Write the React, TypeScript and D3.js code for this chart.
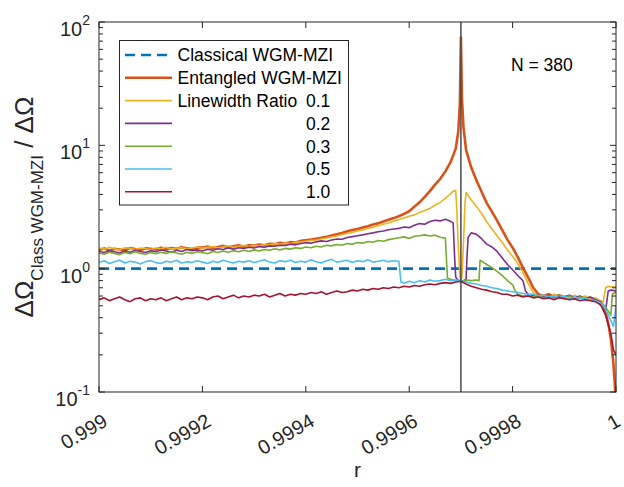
import React from 'react';
import * as d3 from 'd3';

// ---------- data ----------
const rBase = [
  0.99900, 0.99901, 0.99902, 0.99903, 0.99904, 0.99905, 0.99906, 0.99907, 0.99908, 0.99909,
  0.99910, 0.99911, 0.99912, 0.99913, 0.99914, 0.99915, 0.99916, 0.99917, 0.99918, 0.99919,
  0.99920, 0.99921, 0.99922, 0.99923, 0.99924, 0.99925, 0.99926, 0.99927, 0.99928, 0.99929,
  0.99930, 0.99931, 0.99932, 0.99933, 0.99934, 0.99935, 0.99936, 0.99937, 0.99938, 0.99939,
  0.99940, 0.99941, 0.99942, 0.99943, 0.99944, 0.99945, 0.99946, 0.99947, 0.99948, 0.99949,
  0.99950, 0.99951, 0.99952, 0.99953, 0.99954, 0.99955, 0.99956, 0.99957,
];

const entangledBase = [
  1.42, 1.46, 1.40, 1.45, 1.43, 1.41, 1.47, 1.44, 1.42, 1.46,
  1.45, 1.43, 1.48, 1.44, 1.47, 1.45, 1.49, 1.46, 1.44, 1.48,
  1.48, 1.51, 1.47, 1.50, 1.53, 1.49, 1.52, 1.55, 1.51, 1.55,
  1.54, 1.57, 1.55, 1.59, 1.58, 1.62, 1.60, 1.64, 1.63, 1.68,
  1.70, 1.72, 1.75, 1.78, 1.81, 1.86, 1.90, 1.95, 2.01, 2.06,
  2.10, 2.16, 2.21, 2.28, 2.33, 2.41, 2.49, 2.57,
];
const entangledTail: [number, number][] = [
  [0.99958, 2.66], [0.99959, 2.78], [0.99960, 2.92], [0.99961, 3.18], [0.99962, 3.45],
  [0.99963, 3.82], [0.99964, 4.25], [0.99965, 4.80], [0.99966, 5.35], [0.99967, 6.15],
  [0.99968, 7.30], [0.99969, 9.4], [0.999695, 13], [0.999698, 22], [0.99970, 75],
  [0.999702, 24], [0.999705, 14], [0.99971, 9.2], [0.99972, 6.6], [0.99973, 5.2],
  [0.99974, 4.2], [0.99975, 3.4], [0.99976, 2.9], [0.99977, 2.45], [0.99978, 2.05],
  [0.99979, 1.72], [0.99980, 1.48], [0.99981, 1.24], [0.99982, 1.02], [0.99983, 0.85],
  [0.99984, 0.70], [0.99985, 0.62], [0.99986, 0.60], [0.99987, 0.62], [0.99988, 0.59],
  [0.99989, 0.61], [0.99990, 0.58], [0.99991, 0.60], [0.99992, 0.57], [0.99993, 0.59],
  [0.99994, 0.57], [0.99995, 0.58], [0.99996, 0.56], [0.99997, 0.54], [0.999975, 0.50],
  [0.99998, 0.44], [0.999985, 0.36], [0.99999, 0.27], [0.999995, 0.17], [0.999998, 0.11],
  [1.0, 0.08],
];

const ratio01Base = [
  1.47, 1.44, 1.49, 1.45, 1.42, 1.48, 1.46, 1.43, 1.47, 1.45,
  1.43, 1.47, 1.45, 1.49, 1.44, 1.46, 1.48, 1.45, 1.47, 1.50,
  1.46, 1.49, 1.51, 1.48, 1.50, 1.53, 1.49, 1.52, 1.54, 1.51,
  1.55, 1.53, 1.57, 1.56, 1.59, 1.58, 1.61, 1.60, 1.64, 1.65,
  1.67, 1.70, 1.71, 1.75, 1.77, 1.81, 1.84, 1.89, 1.93, 1.97,
  2.02, 2.06, 2.12, 2.17, 2.23, 2.29, 2.35, 2.43,
];
const ratio01Tail: [number, number][] = [
  [0.99958, 2.50], [0.99959, 2.58], [0.99960, 2.66], [0.99961, 2.73], [0.99962, 2.85],
  [0.99963, 2.96], [0.99964, 3.08], [0.99965, 3.28], [0.99966, 3.45], [0.99967, 3.72],
  [0.99968, 4.05], [0.999685, 4.25], [0.99969, 4.30], [0.999692, 3.0], [0.999695, 1.5],
  [0.999698, 0.86], [0.99970, 0.80], [0.999702, 0.86], [0.999705, 1.6], [0.999708, 3.4],
  [0.99971, 4.15], [0.99972, 3.6], [0.99973, 3.2], [0.99974, 2.8], [0.99975, 2.4],
  [0.99976, 2.1], [0.99977, 1.85], [0.99978, 1.63], [0.99979, 1.42], [0.99980, 1.26],
  [0.99981, 1.10], [0.99982, 0.93], [0.99983, 0.76], [0.99984, 0.64], [0.99985, 0.60],
  [0.99986, 0.61], [0.99987, 0.58], [0.99988, 0.62], [0.99989, 0.59], [0.99990, 0.60],
  [0.99991, 0.58], [0.99992, 0.61], [0.99993, 0.58], [0.99994, 0.60], [0.99995, 0.57],
  [0.99996, 0.58], [0.99997, 0.55], [0.999975, 0.53], [0.99998, 0.70], [0.999985, 0.72],
  [0.99999, 0.71], [1.0, 0.72],
];

const ratio02Base = [
  1.38, 1.35, 1.40, 1.37, 1.34, 1.39, 1.36, 1.41, 1.38, 1.35,
  1.40, 1.37, 1.42, 1.39, 1.36, 1.41, 1.38, 1.43, 1.40, 1.42,
  1.39, 1.44, 1.41, 1.45, 1.43, 1.47, 1.44, 1.48, 1.46, 1.49,
  1.47, 1.51, 1.49, 1.53, 1.52, 1.55, 1.54, 1.58, 1.56, 1.60,
  1.62, 1.61, 1.65, 1.68, 1.66, 1.71, 1.74, 1.73, 1.79, 1.82,
  1.85, 1.88, 1.92, 1.95, 1.99, 2.02, 2.07, 2.10,
];
const ratio02Tail: [number, number][] = [
  [0.99958, 2.12], [0.99959, 2.18], [0.99960, 2.15], [0.99961, 2.25], [0.99962, 2.32],
  [0.99963, 2.29], [0.99964, 2.41], [0.99965, 2.47], [0.99966, 2.44], [0.99967, 2.52],
  [0.99968, 2.42], [0.999685, 2.35], [0.999688, 1.2], [0.99969, 0.85], [0.999695, 0.80],
  [0.99970, 0.78], [0.999705, 0.80], [0.99971, 0.82], [0.999712, 1.3], [0.999714, 1.8],
  [0.99972, 1.95], [0.99973, 1.90], [0.99974, 1.75], [0.99975, 1.58], [0.99976, 1.50],
  [0.99977, 1.38], [0.99978, 1.22], [0.99979, 1.08], [0.99980, 0.98], [0.99981, 0.88],
  [0.99982, 0.80], [0.999825, 0.66], [0.99983, 0.62], [0.99984, 0.60], [0.99985, 0.61],
  [0.99986, 0.59], [0.99987, 0.61], [0.99988, 0.58], [0.99989, 0.60], [0.99990, 0.59],
  [0.99991, 0.61], [0.99992, 0.58], [0.99993, 0.60], [0.99994, 0.57], [0.99995, 0.59],
  [0.99996, 0.56], [0.99997, 0.54], [0.999975, 0.50], [0.99998, 0.46], [0.999985, 0.66],
  [0.99999, 0.67], [1.0, 0.66],
];

const ratio03Base = [
  1.34, 1.31, 1.36, 1.33, 1.30, 1.35, 1.32, 1.37, 1.33, 1.31,
  1.35, 1.32, 1.36, 1.33, 1.37, 1.34, 1.31, 1.36, 1.33, 1.37,
  1.35, 1.32, 1.38, 1.35, 1.39, 1.36, 1.40, 1.37, 1.41, 1.38,
  1.42, 1.39, 1.43, 1.41, 1.45, 1.42, 1.46, 1.44, 1.48, 1.46,
  1.50, 1.48, 1.52, 1.50, 1.55, 1.53, 1.57, 1.55, 1.60, 1.58,
  1.63, 1.61, 1.66, 1.64, 1.69, 1.67, 1.72, 1.75,
];
const ratio03Tail: [number, number][] = [
  [0.99958, 1.78], [0.99959, 1.81], [0.99960, 1.76], [0.99961, 1.83], [0.99962, 1.85],
  [0.99963, 1.88], [0.99964, 1.84], [0.99965, 1.87], [0.99966, 1.80], [0.99967, 1.76],
  [0.999672, 1.2], [0.999674, 0.84], [0.99968, 0.82], [0.99969, 0.80], [0.99970, 0.79],
  [0.99971, 0.81], [0.99972, 0.80], [0.99973, 0.81], [0.999735, 0.80], [0.999737, 1.17],
  [0.99974, 1.15], [0.99975, 1.08], [0.99976, 1.02], [0.99977, 0.95], [0.99978, 0.88],
  [0.99979, 0.80], [0.99980, 0.74], [0.999805, 0.66], [0.99981, 0.62], [0.99982, 0.60],
  [0.99983, 0.61], [0.99984, 0.59], [0.99985, 0.61], [0.99986, 0.58], [0.99987, 0.60],
  [0.99988, 0.59], [0.99989, 0.61], [0.99990, 0.58], [0.99991, 0.60], [0.99992, 0.57],
  [0.99993, 0.59], [0.99994, 0.58], [0.99995, 0.56], [0.99996, 0.55], [0.99997, 0.53],
  [0.99998, 0.49], [0.99999, 0.42], [0.999993, 0.62], [1.0, 0.65],
];

const ratio05Base = [
  1.12, 1.16, 1.10, 1.14, 1.17, 1.11, 1.15, 1.13, 1.09, 1.14,
  1.16, 1.12, 1.10, 1.15, 1.13, 1.17, 1.11, 1.14, 1.12, 1.16,
  1.13, 1.10, 1.15, 1.12, 1.17, 1.14, 1.11, 1.15, 1.13, 1.16,
  1.12, 1.15, 1.18, 1.13, 1.11, 1.16, 1.14, 1.17, 1.12, 1.15,
  1.13, 1.18, 1.14, 1.11, 1.16, 1.19, 1.13, 1.15, 1.17, 1.12,
  1.16, 1.14, 1.18, 1.13, 1.15, 1.17, 1.14, 1.16,
];
const ratio05Tail: [number, number][] = [
  [0.99958, 1.15], [0.999582, 0.95], [0.999584, 0.78], [0.99959, 0.76], [0.99960, 0.79],
  [0.99961, 0.77], [0.99962, 0.80], [0.99963, 0.78], [0.99964, 0.81], [0.99965, 0.79],
  [0.99966, 0.80], [0.99967, 0.82], [0.99968, 0.80], [0.99969, 0.81], [0.99970, 0.80],
  [0.99971, 0.78], [0.99972, 0.76], [0.99973, 0.75], [0.99974, 0.73], [0.99975, 0.72],
  [0.99976, 0.70], [0.99977, 0.69], [0.99978, 0.67], [0.99979, 0.66], [0.99980, 0.65],
  [0.99981, 0.64], [0.99982, 0.63], [0.99983, 0.62], [0.99984, 0.62], [0.99985, 0.60],
  [0.99986, 0.61], [0.99987, 0.59], [0.99988, 0.60], [0.99989, 0.58], [0.99990, 0.60],
  [0.99991, 0.57], [0.99992, 0.59], [0.99993, 0.57], [0.99994, 0.58], [0.99995, 0.56],
  [0.99996, 0.55], [0.99997, 0.53], [0.99998, 0.47], [0.99999, 0.38], [0.999995, 0.34],
  [1.0, 0.50],
];

const ratio10Base = [
  0.56, 0.58, 0.55, 0.57, 0.59, 0.56, 0.54, 0.57, 0.58, 0.55,
  0.57, 0.56, 0.58, 0.55, 0.57, 0.59, 0.56, 0.58, 0.57, 0.59,
  0.58, 0.56, 0.59, 0.60, 0.57, 0.59, 0.61, 0.58, 0.60, 0.59,
  0.61, 0.60, 0.62, 0.59, 0.61, 0.63, 0.60, 0.62, 0.61, 0.63,
  0.62, 0.64, 0.63, 0.65, 0.62, 0.64, 0.66, 0.64, 0.65, 0.67,
  0.66, 0.68, 0.67, 0.69, 0.68, 0.70, 0.69, 0.71,
];
const ratio10Tail: [number, number][] = [
  [0.99958, 0.70], [0.99959, 0.72], [0.99960, 0.71], [0.99961, 0.73], [0.99962, 0.72],
  [0.99963, 0.74], [0.99964, 0.75], [0.99965, 0.74], [0.99966, 0.76], [0.99967, 0.77],
  [0.99968, 0.76], [0.99969, 0.78], [0.99970, 0.79], [0.99971, 0.75], [0.99972, 0.72],
  [0.99973, 0.70], [0.99974, 0.68], [0.99975, 0.67], [0.99976, 0.65], [0.99977, 0.64],
  [0.99978, 0.62], [0.99979, 0.62], [0.99980, 0.60], [0.99981, 0.61], [0.99982, 0.59],
  [0.99983, 0.60], [0.99984, 0.58], [0.99985, 0.59], [0.99986, 0.57], [0.99987, 0.58],
  [0.99988, 0.56], [0.99989, 0.58], [0.99990, 0.57], [0.99991, 0.56], [0.99992, 0.57],
  [0.99993, 0.55], [0.99994, 0.56], [0.99995, 0.55], [0.99996, 0.54], [0.99997, 0.51],
  [0.99998, 0.42], [0.99999, 0.30], [0.999995, 0.22], [1.0, 0.20],
];

const classicalLevel = 1.0;
const resonanceR = 0.9997;
const atomNumberLabel = 'N = 380';

const xTicks = [0.999, 0.9992, 0.9994, 0.9996, 0.9998, 1];
const xTickLabels = ['0.999', '0.9992', '0.9994', '0.9996', '0.9998', '1'];
const yTickExps = [-1, 0, 1, 2];

const legendNames = ['Classical WGM-MZI', 'Entangled WGM-MZI', 'Linewidth Ratio', '', '', '', ''];
const legendRatios = ['', '', '0.1', '0.2', '0.3', '0.5', '1.0'];

const COLORS = {
  classical: '#0072BD',
  entangled: '#D95319',
  r01: '#EDB120',
  r02: '#7E2F8E',
  r03: '#77AC30',
  r05: '#4DBEEE',
  r10: '#A2142F',
};

const FONT = '"Liberation Sans", Arial, Helvetica, sans-serif';

type Pt = [number, number];

function build(base: number[], tail: Pt[]): Pt[] {
  const pts: Pt[] = rBase.map((r, i) => [r, base[i]] as Pt);
  return pts.concat(tail);
}

export default function App() {
  const W = 624;
  const H = 487;
  const L = 99, R = 616, T = 22, B = 392;

  const x = d3.scaleLinear().domain([0.999, 1]).range([L, R]);
  const y = d3.scaleLog().domain([0.1, 100]).range([B, T]);
  const line = d3.line<Pt>().x((d) => x(d[0])).y((d) => y(d[1]));

  const series = [
    { key: 'entangled', color: COLORS.entangled, width: 2.6, pts: build(entangledBase, entangledTail) },
    { key: 'r01', color: COLORS.r01, width: 1.6, pts: build(ratio01Base, ratio01Tail) },
    { key: 'r02', color: COLORS.r02, width: 1.6, pts: build(ratio02Base, ratio02Tail) },
    { key: 'r03', color: COLORS.r03, width: 1.6, pts: build(ratio03Base, ratio03Tail) },
    { key: 'r05', color: COLORS.r05, width: 1.6, pts: build(ratio05Base, ratio05Tail) },
    { key: 'r10', color: COLORS.r10, width: 1.6, pts: build(ratio10Base, ratio10Tail) },
  ];

  const legendItems = [
    { color: COLORS.classical, width: 2.6, dash: '10,6' },
    { color: COLORS.entangled, width: 2.6, dash: undefined },
    { color: COLORS.r01, width: 1.6, dash: undefined },
    { color: COLORS.r02, width: 1.6, dash: undefined },
    { color: COLORS.r03, width: 1.6, dash: undefined },
    { color: COLORS.r05, width: 1.6, dash: undefined },
    { color: COLORS.r10, width: 1.6, dash: undefined },
  ];

  const minorTicks: number[] = [];
  for (let e = -1; e <= 1; e++) {
    for (let k = 2; k <= 9; k++) minorTicks.push(k * Math.pow(10, e));
  }

  const axisColor = '#262626';
  const legY0 = 55;
  const legDY = 22.8;

  return (
    <svg width={W} height={H} style={{ position: 'absolute', left: 0, top: 0, background: '#fff' }}
      fontFamily={FONT}>
      <defs>
        <clipPath id="plotClip">
          <rect x={L} y={T} width={R - L} height={B - T} />
        </clipPath>
      </defs>
      <rect x={0} y={0} width={W} height={H} fill="#fff" />

      <g clipPath="url(#plotClip)">
        <line x1={x(0.999)} x2={x(1)} y1={y(classicalLevel)} y2={y(classicalLevel)}
          stroke={COLORS.classical} strokeWidth={2.6} strokeDasharray="10,6" />
        {series.map((s) => (
          <path key={s.key} d={line(s.pts) || ''} fill="none" stroke={s.color}
            strokeWidth={s.width} strokeLinejoin="round" />
        ))}
        <line x1={x(resonanceR)} x2={x(resonanceR)} y1={T} y2={B} stroke="#4a4a4a" strokeWidth={1.5} />
      </g>

      {/* axes box */}
      <rect x={L} y={T} width={R - L} height={B - T} fill="none" stroke={axisColor} strokeWidth={1} />

      {/* x ticks */}
      {xTicks.map((t, i) => (
        <g key={'xt' + i}>
          <line x1={x(t)} x2={x(t)} y1={B} y2={B - 6} stroke={axisColor} />
          <line x1={x(t)} x2={x(t)} y1={T} y2={T + 6} stroke={axisColor} />
          <text transform={`translate(${Math.min(x(t) + 10, 622)},${B + 33}) rotate(-30)`} textAnchor="end"
            fontSize={20} fill="#262626">{xTickLabels[i]}</text>
        </g>
      ))}

      {/* y ticks */}
      {yTickExps.map((e) => {
        const v = Math.pow(10, e);
        return (
          <g key={'yt' + e}>
            <line x1={L} x2={L + 6} y1={y(v)} y2={y(v)} stroke={axisColor} />
            <line x1={R} x2={R - 6} y1={y(v)} y2={y(v)} stroke={axisColor} />
            <text x={90} y={y(v) + 14} textAnchor="end" fontSize={20} fill="#262626">
              10<tspan fontSize={14} dy={-11}>{String(e)}</tspan>
            </text>
          </g>
        );
      })}
      {minorTicks.map((v, i) => (
        <g key={'ym' + i}>
          <line x1={L} x2={L + 4} y1={y(v)} y2={y(v)} stroke={axisColor} />
          <line x1={R} x2={R - 4} y1={y(v)} y2={y(v)} stroke={axisColor} />
        </g>
      ))}

      {/* axis labels */}
      <text x={(L + R) / 2} y={477} textAnchor="middle" fontSize={21} fill="#262626">r</text>
      <text transform={`translate(33,${(T + B) / 2}) rotate(-90)`} textAnchor="middle" fill="#262626" fontSize={26}>
        ΔΩ<tspan fontSize={17} dy={10}>Class WGM-MZI</tspan><tspan dy={-10}> / ΔΩ</tspan>
      </text>

      {/* annotation */}
      <text x={511} y={70.7} fontSize={17.5} fill="#000">{atomNumberLabel}</text>

      {/* legend */}
      <rect x={119.5} y={40.5} width={229} height={164.5} fill="#fff" stroke={axisColor} strokeWidth={1} />
      {legendItems.map((it, i) => {
        const ly = legY0 + i * legDY;
        return (
          <g key={'lg' + i}>
            <line x1={125} x2={172} y1={ly} y2={ly} stroke={it.color} strokeWidth={it.width}
              strokeDasharray={it.dash} />
            {legendNames[i] && (
              <text x={177.5} y={ly + 6.3} fontSize={17.5} fill="#000">{legendNames[i]}</text>
            )}
            {legendRatios[i] && (
              <text x={306} y={ly + 6.3} fontSize={17.5} fill="#000">{legendRatios[i]}</text>
            )}
          </g>
        );
      })}
    </svg>
  );
}
